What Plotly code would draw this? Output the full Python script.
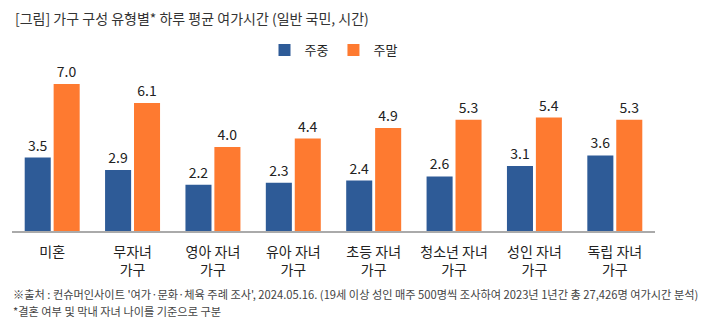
import plotly.graph_objects as go

categories = ["미혼", "무자녀<br>가구", "영아 자녀<br>가구", "유아 자녀<br>가구",
              "초등 자녀<br>가구", "청소년 자녀<br>가구", "성인 자녀<br>가구", "독립 자녀<br>가구"]
weekday = [3.5, 2.9, 2.2, 2.3, 2.4, 2.6, 3.1, 3.6]
weekend = [7.0, 6.1, 4.0, 4.4, 4.9, 5.3, 5.4, 5.3]

BLUE = "#2E5B97"
ORANGE = "#FE7A30"
FONT = "Noto Sans CJK KR"

fig = go.Figure()
fig.add_trace(go.Bar(name="주중", x=categories, y=weekday, marker_color=BLUE,
                     marker_line_width=0, text=[f"{v:.1f}" for v in weekday],
                     textposition="outside", cliponaxis=False,
                     textfont=dict(size=14, color="#222222", family=FONT)))
fig.add_trace(go.Bar(name="주말", x=categories, y=weekend, marker_color=ORANGE,
                     marker_line_width=0, text=[f"{v:.1f}" for v in weekend],
                     textposition="outside", cliponaxis=False,
                     textfont=dict(size=14, color="#222222", family=FONT)))

fig.update_layout(
    width=706, height=330,
    margin=dict(l=12, r=51, t=70, b=99, autoexpand=False),
    paper_bgcolor="white", plot_bgcolor="white",
    barmode="group", bargap=0.28, bargroupgap=0.1,
    font=dict(family=FONT, color="#222222"),
    showlegend=True,
    legend=dict(orientation="h", x=0.5, xanchor="center", y=1 - 50 / 330,
                yanchor="middle", yref="container",
                font=dict(size=13, color="#222222"), traceorder="normal"),
)

fig.update_xaxes(showline=True, linecolor="#AAAAAA", linewidth=1.5, ticks="",
                 tickfont=dict(size=14, color="#222222"), showgrid=False,
                 automargin=False, ticklabelstandoff=7, fixedrange=True)
fig.update_yaxes(range=[0, 161 / 21], visible=False, showgrid=False,
                 automargin=False, fixedrange=True)

fig.add_annotation(text="[그림] 가구 구성 유형별* 하루 평균 여가시간 (일반 국민, 시간)",
                   xref="paper", yref="paper", x=0, xanchor="left",
                   y=1 + (70 - 18) / 161, yanchor="middle", xshift=1,
                   showarrow=False, font=dict(size=14, color="#333333"))
fig.add_annotation(text="※출처 : 컨슈머인사이트 '여가·문화·체육 주례 조사', 2024.05.16. (19세 이상 성인 매주 500명씩 조사하여 2023년 1년간 총 27,426명 여가시간 분석)",
                   xref="paper", yref="paper", x=0, xanchor="left",
                   y=-(294 - 231) / 161, yanchor="middle", xshift=-1,
                   showarrow=False, font=dict(size=11.2, color="#444444"))
fig.add_annotation(text="*결혼 여부 및 막내 자녀 나이를 기준으로 구분",
                   xref="paper", yref="paper", x=0, xanchor="left",
                   y=-(311 - 231) / 161, yanchor="middle", xshift=-1,
                   showarrow=False, font=dict(size=11.2, color="#444444"))

fig.write_html("out.html")
